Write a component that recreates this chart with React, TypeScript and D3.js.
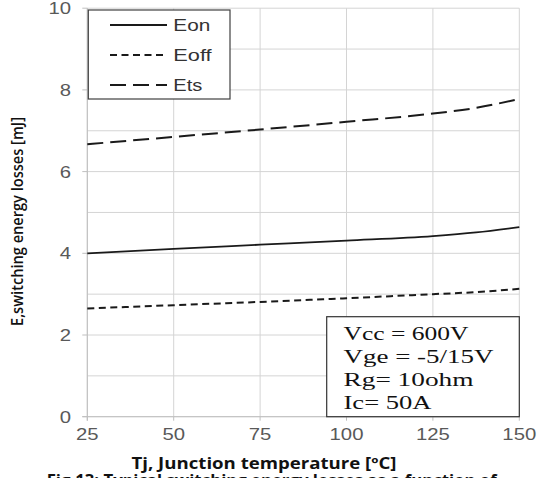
import React from "react";
import * as d3 from "d3";

const temps = [25, 50, 75, 100, 125, 137.5, 150];
const eon = [4.0, 4.11, 4.21, 4.31, 4.42, 4.51, 4.64];
const eoff = [2.65, 2.73, 2.81, 2.9, 3.0, 3.05, 3.13];
const ets = [6.67, 6.85, 7.03, 7.22, 7.42, 7.56, 7.78];
const xTicks = [25, 50, 75, 100, 125, 150];
const yTicks = [0, 2, 4, 6, 8, 10];
const yGrid = [0, 1, 2, 3, 4, 5, 6, 7, 8, 9, 10];
const seriesNames = ["Eon", "Eoff", "Ets"];
const conditions = ["Vcc = 600V", "Vge = -5/15V", "Rg= 10ohm", "Ic= 50A"];

const W = 537, H = 478;
const L = 87.3, R = 519.3, T = 8.2, B = 416.7;

export default function App() {
  const x = d3.scaleLinear().domain([25, 150]).range([L, R]);
  const y = d3.scaleLinear().domain([0, 10]).range([B, T]);
  const line = (vals: number[]) =>
    d3.line<number>()
      .x((_, i) => x(temps[i]))
      .y((v) => y(v))
      .curve(d3.curveMonotoneX)(vals) as string;
  const styles = [
    { data: eon, dash: "none", w: 1.8 },
    { data: eoff, dash: "7,4.5", w: 2 },
    { data: ets, dash: "16,7", w: 2 },
  ];
  const legendW = [37, 38.3, 29];
  const condW = [125, 150, 130, 88];
  const grid = "#d4d4d4";
  const tickColor = "#595959";
  const sans = "'Liberation Sans', Arial, sans-serif";
  return (
    <svg width={W} height={H} style={{ position: "absolute", left: 0, top: 0, background: "#fff" }}>
      <rect x={0} y={0} width={W} height={H} fill="#fff" />
      {yGrid.map((v) => (
        <line key={"hy" + v} x1={L} x2={R} y1={y(v)} y2={y(v)} stroke={grid} strokeWidth={1} />
      ))}
      {xTicks.map((v) => (
        <line key={"vx" + v} x1={x(v)} x2={x(v)} y1={T} y2={B} stroke={grid} strokeWidth={1} />
      ))}
      <line x1={L} x2={L} y1={T} y2={B + 4} stroke="#bfbfbf" strokeWidth={1} />
      <line x1={L - 5} x2={R} y1={B} y2={B} stroke="#bfbfbf" strokeWidth={1} />
      {yTicks.map((v) => (
        <line key={"ty" + v} x1={L - 5} x2={L} y1={y(v)} y2={y(v)} stroke="#bfbfbf" />
      ))}
      {xTicks.map((v) => (
        <line key={"tx" + v} x1={x(v)} x2={x(v)} y1={B} y2={B + 4} stroke="#bfbfbf" />
      ))}
      {yTicks.map((v) => (
        <text key={"ly" + v} x={71} y={y(v) + 6} textAnchor="end" fontFamily={sans} fontSize={17}
          textLength={String(v).length * 11.3} lengthAdjust="spacingAndGlyphs" fill={tickColor}>
          {v}
        </text>
      ))}
      {xTicks.map((v) => (
        <text key={"lx" + v} x={x(v)} y={439.5} textAnchor="middle" fontFamily={sans} fontSize={17}
          textLength={String(v).length * 11.3} lengthAdjust="spacingAndGlyphs" fill={tickColor}>
          {v}
        </text>
      ))}
      {styles.map((s, i) => (
        <path key={"s" + i} d={line(s.data)} fill="none" stroke="#1a1a1a" strokeWidth={s.w} strokeDasharray={s.dash} />
      ))}
      <rect x={88.3} y={10} width={141.7} height={89} fill="#fff" stroke="#404040" strokeWidth={1.2} />
      {seriesNames.map((n, i) => {
        const ly = 25 + i * 30;
        return (
          <g key={"lg" + n}>
            <line x1={110} x2={167} y1={ly} y2={ly} stroke="#1a1a1a" strokeWidth={styles[i].w} strokeDasharray={styles[i].dash} />
            <text x={173.3} y={ly + 6} fontFamily={sans} fontSize={17} textLength={legendW[i]}
              lengthAdjust="spacingAndGlyphs" fill="#333">
              {n}
            </text>
          </g>
        );
      })}
      <rect x={326.7} y={316.7} width={R - 326.7} height={B - 316.7} fill="#fff" stroke="#333" strokeWidth={1.2} />
      {conditions.map((c, i) => (
        <text key={"c" + i} x={343.5} y={339.5 + i * 23} fontFamily="'Liberation Serif', 'Times New Roman', serif"
          fontSize={19.5} textLength={condW[i]} lengthAdjust="spacingAndGlyphs" fill="#111">
          {c}
        </text>
      ))}
      <text
        transform="translate(22.5,221.5) rotate(-90)"
        textAnchor="middle"
        fontFamily="'Open Sans', sans-serif"
        fontWeight={600}
        fontSize={16}
        textLength={209}
        lengthAdjust="spacingAndGlyphs"
        fill="#111"
      >
        E,switching energy losses [mJ]
      </text>
      <text x={131.5} y={469} fontFamily="'Open Sans', sans-serif" fontWeight={700} fontSize={16} textLength={265} lengthAdjust="spacingAndGlyphs" fill="#111">
        Tj, Junction temperature [ºC]
      </text>
      <text x={46.7} y={486} fontFamily="'Open Sans', sans-serif" fontWeight={700} fontSize={16} textLength={450} lengthAdjust="spacingAndGlyphs" fill="#111">
        Fig.13: Typical switching energy losses as a function of
      </text>
    </svg>
  );
}
